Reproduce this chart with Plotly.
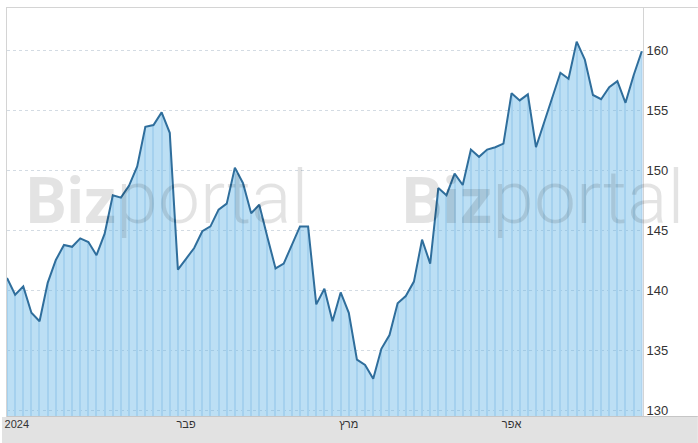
import plotly.graph_objects as go

# ---- data ----
prices = [141.0, 139.6, 140.3, 138.1, 137.4, 140.6, 142.5, 143.75, 143.6, 144.3,
          144.0, 142.9, 144.7, 147.9, 147.7, 148.7, 150.3, 153.6, 153.75, 154.8,
          153.1, 141.7, 142.6, 143.5, 144.9, 145.3, 146.7, 147.2, 150.2, 148.9,
          146.4, 147.1, 144.4, 141.8, 142.2, 143.75, 145.3, 145.3, 138.8, 140.1,
          137.4, 139.8, 138.1, 134.2, 133.75, 132.6, 135.1, 136.25, 138.9, 139.5,
          140.7, 144.2, 142.2, 148.5, 147.9, 149.7, 148.75, 151.7, 151.1, 151.7,
          151.9, 152.2, 156.4, 155.8, 156.3, 151.9, 154.0, 156.1, 158.1, 157.6,
          160.7, 159.2, 156.25, 155.9, 156.9, 157.4, 155.6, 157.9, 159.9]
days = list(range(len(prices)))

month_tick_pos = [1.2, 22, 42, 62]
month_labels = ["2024", "פבר", "מרץ", "אפר"]

y_ticks = [130, 135, 140, 145, 150, 155, 160]

W, H = 698, 443
L, R, T, B = 5, 55, 8, 27
pw = W - L - R
ph = H - T - B


def px_x(px):
    return (px - L) / pw


def px_y(py):
    return (H - B - py) / ph


fig = go.Figure()

# vertical day lines inside area
fig.add_trace(go.Bar(
    x=days, y=prices, width=0.14,
    marker=dict(color="rgb(215,230,244)", line=dict(width=0)),
    hoverinfo="skip", showlegend=False,
))

# filled area + line
fig.add_trace(go.Scatter(
    x=days, y=prices, mode="lines",
    line=dict(color="#2f6e9c", width=2),
    fill="tozeroy", fillcolor="rgba(100,180,230,0.43)",
    showlegend=False,
))

shapes = [
    # bottom grey band
    dict(type="rect", xref="paper", yref="paper",
         x0=px_x(0), x1=px_x(W), y0=px_y(H), y1=px_y(417),
         fillcolor="#e2e2e2", line=dict(width=0), layer="below"),
    dict(type="line", xref="paper", yref="paper",
         x0=px_x(4), x1=px_x(W), y0=px_y(416.5), y1=px_y(416.5),
         line=dict(color="#c6c6c6", width=1)),
    # frame top and left
    dict(type="line", xref="paper", yref="paper",
         x0=px_x(4), x1=px_x(W), y0=px_y(7.5), y1=px_y(7.5),
         line=dict(color="#d4d4d4", width=1)),
    dict(type="line", xref="paper", yref="paper",
         x0=px_x(4.5), x1=px_x(4.5), y0=px_y(7.5), y1=px_y(417),
         line=dict(color="#d4d4d4", width=1)),
]

wm_text = ('<span style="font-size:64px;font-weight:bold">Biz</span>'
           '<span style="font-size:75px;font-weight:300">portal</span>')
annotations = []
for cx in (166, 543):
    annotations.append(dict(
        xref="paper", yref="paper", x=px_x(cx), y=px_y(197),
        xanchor="center", yanchor="middle", showarrow=False,
        text=wm_text,
        font=dict(family="Roboto, Liberation Sans, Arial", size=66,
                  color="rgba(0,0,0,0.11)"),
    ))

fig.update_layout(
    width=W, height=H,
    margin=dict(l=L, r=R, t=T, b=B),
    paper_bgcolor="white", plot_bgcolor="white",
    bargap=0, shapes=shapes, annotations=annotations,
    font=dict(family="Liberation Sans, Arial", color="#333333"),
)

fig.update_xaxes(
    range=[0, 78.15], showgrid=False, zeroline=False, showline=False,
    tickmode="array", tickvals=month_tick_pos, ticktext=month_labels,
    tickfont=dict(size=11, color="#333333"), ticks="",
)

fig.update_yaxes(
    range=[129.5, 163.5], side="right",
    tickmode="array", tickvals=y_ticks,
    tickfont=dict(size=13, color="#333333"),
    showgrid=True, gridcolor="#d3dbe3", griddash="dot", gridwidth=1,
    zeroline=False, showline=True, linecolor="#d4d4d4", linewidth=1,
    ticks="",
)

fig.write_html("out.html",
               config={"displayModeBar": False},
               post_script="document.body.style.margin='0';document.body.style.overflow='hidden';")
